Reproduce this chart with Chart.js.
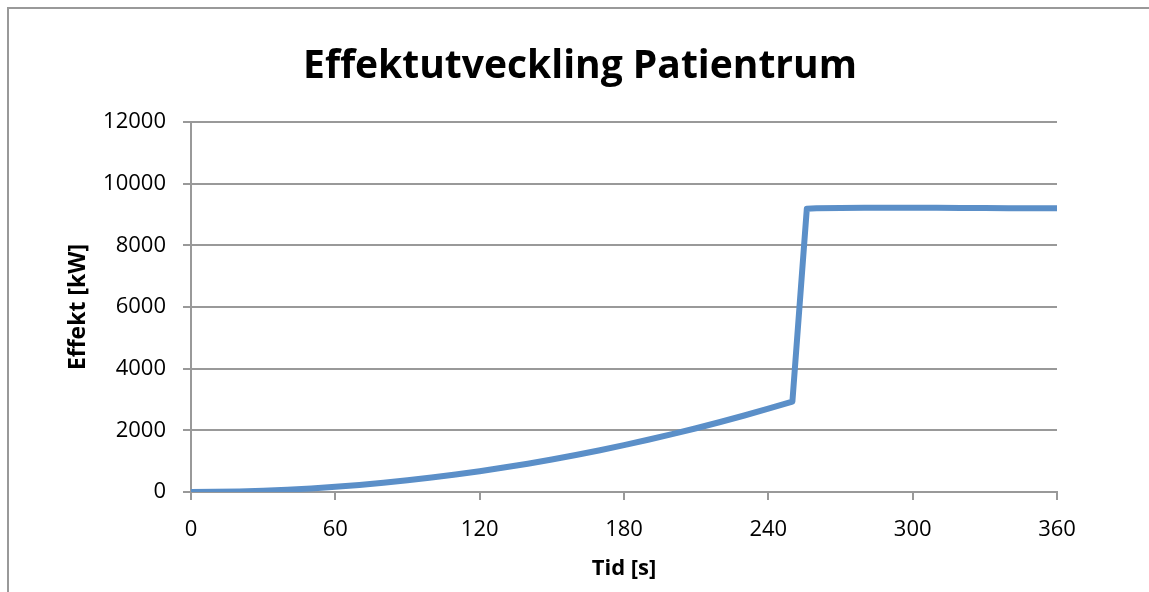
<!DOCTYPE html>
<html>
<head>
<meta charset="utf-8">
<script src="https://cdn.jsdelivr.net/npm/chart.js@4"></script>
<style>
  html, body { margin: 0; padding: 0; background: #fff; }
  #wrap { width: 1149px; height: 592px; }
</style>
</head>
<body>
<div id="wrap"><canvas id="chart" width="1149" height="592"></canvas></div>
<script>
// Tid [s]
const times = [0, 10, 20, 30, 40, 50, 60, 70, 80, 90, 100, 110, 120, 130, 140, 150, 160, 170, 180, 190, 200,
  210, 220, 230, 240, 250, 256, 260, 270, 280, 290, 300, 310, 320, 330, 340, 350, 360];
// Effekt [kW]
const power = [0, 5, 19, 42, 75, 117, 169, 230, 300, 380, 469, 567, 675, 793, 919, 1055, 1201, 1355, 1520, 1693, 1876,
  2068, 2270, 2481, 2701, 2931, 9190, 9205, 9212, 9218, 9220, 9218, 9215, 9210, 9207, 9204, 9202, 9200];
const xTicks = [0, 60, 120, 180, 240, 300, 360];
const yTicks = [0, 2000, 4000, 6000, 8000, 10000, 12000];
const chartTitle = 'Effektutveckling Patientrum';

const FONT = "'Open Sans', 'Liberation Sans', sans-serif";

// ram (bara vänster och övre kant syns) och rubrik
const framePlugin = {
  id: 'frame',
  beforeDraw(chart) {
    const ctx = chart.ctx;
    ctx.save();
    ctx.fillStyle = '#fff';
    ctx.fillRect(0, 0, chart.width, chart.height);
    ctx.strokeStyle = '#999';
    ctx.lineWidth = 2;
    ctx.beginPath();
    ctx.moveTo(8, chart.height);
    ctx.lineTo(8, 8);
    ctx.lineTo(chart.width, 8);
    ctx.stroke();
    ctx.fillStyle = '#000';
    ctx.font = 'bold 39px ' + FONT;
    ctx.textAlign = 'center';
    ctx.textBaseline = 'middle';
    ctx.fillText(chartTitle, 580, 67);
    ctx.restore();
  }
};

new Chart(document.getElementById('chart'), {
  type: 'line',
  data: {
    datasets: [{
      data: times.map((t, i) => ({ x: t, y: power[i] })),
      borderColor: '#5b8fc8',
      borderWidth: 6,
      pointRadius: 0,
      tension: 0,
      borderJoinStyle: 'round',
      borderCapStyle: 'butt'
    }]
  },
  options: {
    responsive: false,
    animation: false,
    layout: { padding: { left: 0, right: 92, top: 122, bottom: 0 } },
    plugins: {
      legend: { display: false },
      tooltip: { enabled: false },
      title: { display: false }
    },
    scales: {
      x: {
        type: 'linear',
        min: 0,
        max: 360,
        afterBuildTicks: s => { s.ticks = xTicks.map(v => ({ value: v })); },
        afterFit: s => { s.height = 100; },
        ticks: { color: '#000', font: { family: FONT, size: 22 }, padding: 17, maxRotation: 0 },
        grid: { drawOnChartArea: false, drawTicks: true, tickLength: 8, color: '#999', lineWidth: 2 },
        border: { color: '#999', width: 2 },
        title: {
          display: true,
          text: 'Tid [s]',
          color: '#000',
          font: { family: FONT, size: 22, weight: 'bold', lineHeight: 1.2 },
          padding: { top: 10, bottom: 10 }
        }
      },
      y: {
        min: 0,
        max: 12000,
        afterBuildTicks: s => { s.ticks = yTicks.map(v => ({ value: v })); },
        afterFit: s => { s.width = 191; },
        ticks: {
          color: '#000',
          font: { family: FONT, size: 22 },
          padding: 17,
          callback: v => String(v)
        },
        grid: { color: '#999', lineWidth: 2, drawTicks: true, tickLength: 8 },
        border: { color: '#999', width: 2 },
        title: {
          display: true,
          text: 'Effekt [kW]',
          color: '#000',
          font: { family: FONT, size: 23, weight: 'bold', lineHeight: 1.2 },
          padding: { top: 65, bottom: 65 }
        }
      }
    }
  },
  plugins: [framePlugin]
});
</script>
</body>
</html>
